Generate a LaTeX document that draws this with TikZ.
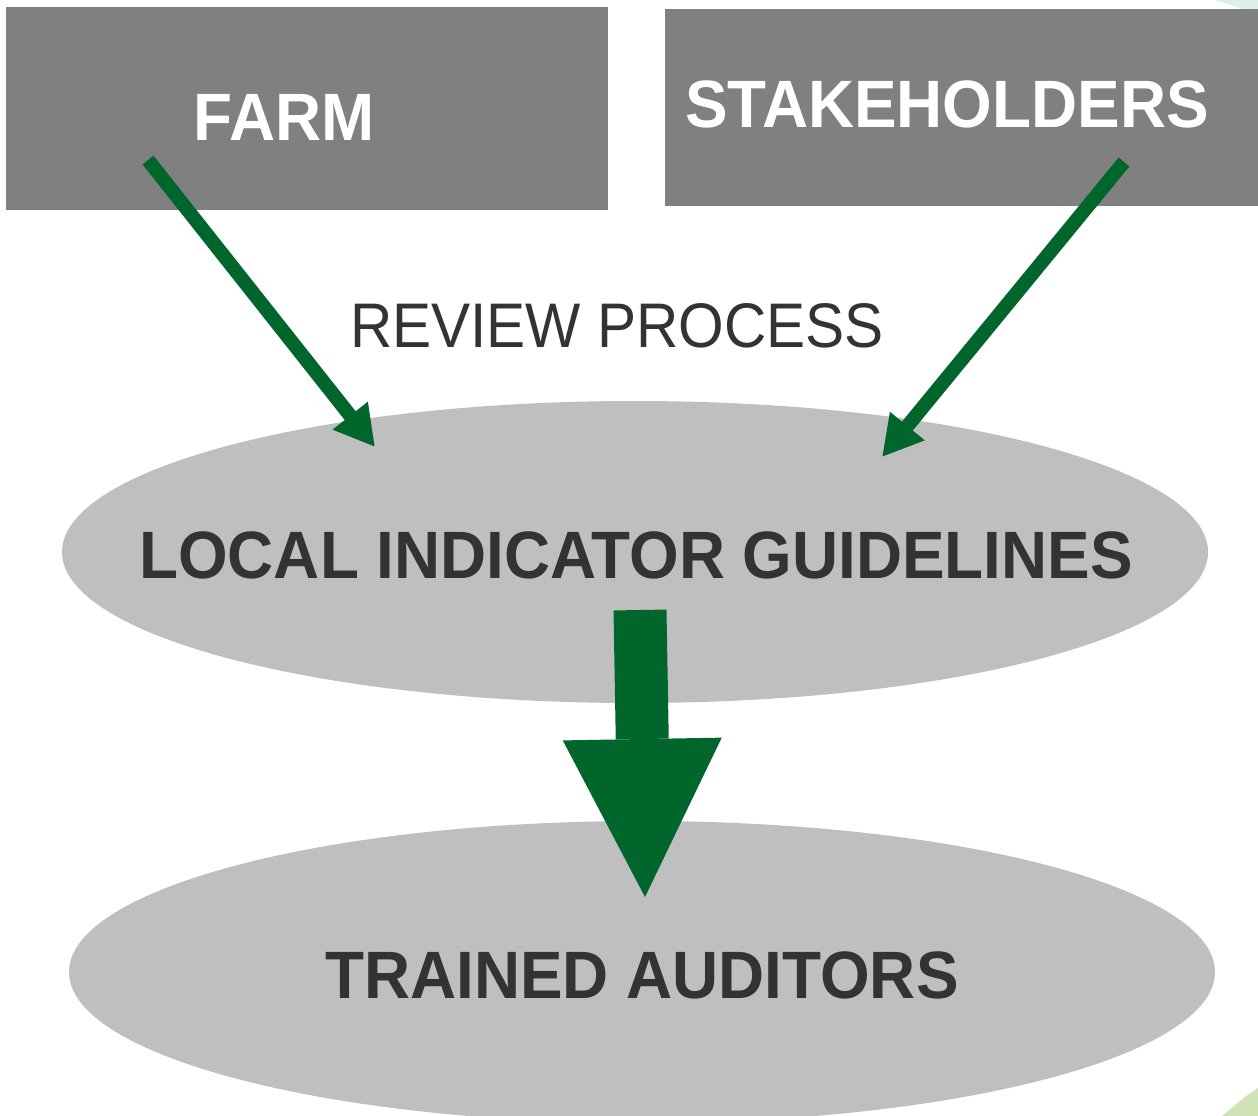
\documentclass[tikz,border=0pt]{standalone}
\usepackage{fontspec}
\setmainfont{Liberation Sans}
\newfontfamily\headfont[FakeStretch=0.952]{Liberation Sans}
\newfontfamily\notefont[FakeStretch=0.93]{Liberation Sans}
\usetikzlibrary{arrows.meta}
\definecolor{boxgray}{HTML}{808080}
\definecolor{ovalgray}{HTML}{BFBFBF}
\definecolor{leafgreen}{HTML}{00662C}
\definecolor{inkgray}{HTML}{333333}
\definecolor{paleaqua}{HTML}{DDEFEA}
\definecolor{palelime}{HTML}{CFE3B4}
\begin{document}
\begin{tikzpicture}[x=1pt,y=-1pt,
  sourcebox/.style={fill=boxgray,draw=none},
  oval/.style={fill=ovalgray,draw=none},
  boxlabel/.style={anchor=base,text=white,font=\headfont\fontsize{67}{70}\selectfont\bfseries,inner sep=0pt},
  ovallabel/.style={anchor=base,text=inkgray,font=\headfont\fontsize{67}{70}\selectfont\bfseries,inner sep=0pt},
  feed/.style={draw=leafgreen,line width=14pt,-{Triangle[length=40pt,width=42pt]}},
  bigflow/.style={draw=leafgreen,line width=53pt,-{Triangle[length=158pt,width=159pt,line width=0pt]}}]
\useasboundingbox (0,0) rectangle (1258,1116);
\fill[white] (0,0) rectangle (1258,1116);
% background slivers in the corners
\begin{scope}
\clip (0,0) rectangle (1258,1116);
\fill[paleaqua] (1215,0) -- (1258,0) -- (1258,14) -- cycle;
\fill[palelime] (1222,1116) .. controls (1235,1105) and (1248,1094) .. (1258,1088) -- (1258,1116) -- cycle;
\end{scope}
% source boxes
\fill[sourcebox] (6,7) rectangle (608,210);
\fill[sourcebox] (665,9) rectangle (1258,206);
\node[boxlabel] (farm) at (284,140) {FARM};
\node[boxlabel] (stake) at (947,127) {STAKEHOLDERS};
% review label
\node[anchor=base,text=inkgray,font=\notefont\fontsize{63}{66}\selectfont,inner sep=0pt] (review) at (617,347) {REVIEW PROCESS};
% ovals
\fill[oval] (635,552) ellipse [x radius=573, y radius=151];
\fill[oval] (642,972) ellipse [x radius=573, y radius=151];
\node[ovallabel] (guide) at (636,578) {LOCAL INDICATOR GUIDELINES};
\node[ovallabel] (audit) at (642,998) {TRAINED AUDITORS};
% connector end points
\coordinate (farmout) at (148,160);
\coordinate (guidein1) at (375,447);
\coordinate (stakeout) at (1124,162);
\coordinate (guidein2) at (882,457);
\coordinate (guideout) at (640,610);
\coordinate (auditin) at (645,897);
\draw[feed] (farmout) -- (guidein1);
\draw[feed] (stakeout) -- (guidein2);
\draw[bigflow] (guideout) -- (auditin);
\end{tikzpicture}
\end{document}
